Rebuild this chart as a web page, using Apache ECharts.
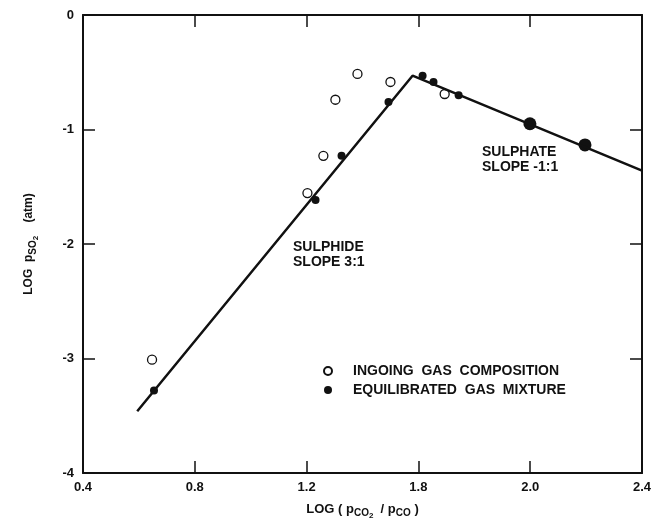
<!DOCTYPE html>
<html>
<head>
<meta charset="utf-8">
<script src="https://cdn.jsdelivr.net/npm/echarts@6/dist/echarts.min.js"></script>
<style>
  html, body { margin: 0; padding: 0; background: #fff; }
  #chart { width: 663px; height: 523px; }
</style>
</head>
<body>
<div id="chart"></div>
<script>
// x tick labels as printed on the figure (the 1.6 tick is printed "1.8")
var xTickLabels = ['0.4', '0.8', '1.2', '1.8', '2.0', '2.4'];
var yTickLabels = ['-4', '-3', '-2', '-1', '0'];

// open circles: ingoing gas composition
var ingoing = [
    [0.647, -3.01], [1.203, -1.555], [1.26, -1.23], [1.303, -0.74],
    [1.382, -0.515], [1.50, -0.585], [1.694, -0.69]
];
// filled circles: equilibrated gas mixture
var equilibrated = [
    [0.654, -3.28], [1.232, -1.616], [1.325, -1.23], [1.493, -0.76],
    [1.615, -0.53], [1.654, -0.585], [1.744, -0.70]
];
var equilibratedLarge = [[1.999, -0.95], [2.196, -1.135]];
// fitted lines: sulphide slope 3:1, sulphate slope -1:1
var fitLine = [[0.594, -3.46], [1.579, -0.53], [2.4, -1.36]];

var font = '"Liberation Sans", Arial, sans-serif';

function init() {
    var myChart = echarts.init(document.getElementById('chart'));

    var tick = { inside: true, length: 12, lineStyle: { color: '#111', width: 1.5 } };
    var line = { onZero: false, lineStyle: { color: '#111', width: 2 } };

    var option = {
        backgroundColor: '#fff',
        animation: false,
        grid: { left: 83, right: 21, top: 15, bottom: 50, outerBoundsMode: 'none', containLabel: false },
        legend: {
            data: ['INGOING  GAS  COMPOSITION', 'EQUILIBRATED  GAS  MIXTURE'],
            orient: 'vertical',
            left: 318, top: 359,
            itemGap: 5,
            itemWidth: 12, itemHeight: 8,
            textStyle: { color: '#111', fontSize: 14, fontWeight: 'bold', fontFamily: font, padding: [0, 0, 0, 14] }
        },
        xAxis: [
            {
                type: 'value', min: 0.4, max: 2.4, interval: 0.4,
                name: '{t|LOG ( p}{s|CO}{u|2}{t|  / p}{s|CO}{t| )}',
                nameLocation: 'middle', nameGap: 25,
                nameTextStyle: {
                    rich: {
                        t: { fontSize: 13, fontWeight: 'bold', color: '#111', fontFamily: font },
                        s: { fontSize: 10, fontWeight: 'bold', color: '#111', fontFamily: font, padding: [9, 0, 0, 0] },
                        u: { fontSize: 8, fontWeight: 'bold', color: '#111', fontFamily: font, padding: [14, 0, 0, 0] }
                    }
                },
                axisLine: line,
                axisTick: tick,
                splitLine: { show: false },
                axisLabel: {
                    color: '#111', fontSize: 13, fontWeight: 'bold', fontFamily: font, margin: 8,
                    formatter: function (v) { return xTickLabels[Math.round((v - 0.4) / 0.4)]; }
                }
            },
            {
                type: 'value', position: 'top', min: 0.4, max: 2.4, interval: 0.4,
                axisLine: line,
                axisTick: tick,
                axisLabel: { show: false },
                splitLine: { show: false }
            }
        ],
        yAxis: [
            {
                type: 'value', min: -4, max: 0, interval: 1,
                name: '{t|LOG  p}{s|SO}{u|2}{t|    (atm)}',
                nameLocation: 'middle', nameGap: 43, nameRotate: 90,
                nameTextStyle: {
                    rich: {
                        t: { fontSize: 12, fontWeight: 'bold', color: '#111', fontFamily: font },
                        s: { fontSize: 10, fontWeight: 'bold', color: '#111', fontFamily: font, padding: [9, 0, 0, 0] },
                        u: { fontSize: 8, fontWeight: 'bold', color: '#111', fontFamily: font, padding: [14, 0, 0, 0] }
                    }
                },
                axisLine: line,
                axisTick: tick,
                splitLine: { show: false },
                axisLabel: {
                    color: '#111', fontSize: 13, fontWeight: 'bold', fontFamily: font, margin: 9,
                    formatter: function (v) { return yTickLabels[Math.round(v + 4)]; }
                }
            },
            {
                type: 'value', position: 'right', min: -4, max: 0, interval: 1,
                axisLine: line,
                axisTick: tick,
                axisLabel: { show: false },
                splitLine: { show: false }
            }
        ],
        series: [
            {
                name: 'fit', type: 'line', data: fitLine,
                symbol: 'none', silent: true,
                lineStyle: { color: '#111', width: 2.5 }
            },
            {
                name: 'INGOING  GAS  COMPOSITION', type: 'scatter', data: ingoing,
                symbolSize: 9,
                itemStyle: { color: '#fff', borderColor: '#111', borderWidth: 1.3, opacity: 1 }
            },
            {
                name: 'EQUILIBRATED  GAS  MIXTURE', type: 'scatter', data: equilibrated,
                symbolSize: 8,
                itemStyle: { color: '#111', opacity: 1 }
            },
            {
                name: 'large', type: 'scatter', data: equilibratedLarge,
                symbolSize: 13,
                itemStyle: { color: '#111', opacity: 1 }
            }
        ],
        graphic: [
            {
                type: 'text', left: 293, top: 240,
                style: { text: 'SULPHIDE\nSLOPE 3:1', fill: '#111', font: 'bold 14px ' + font, lineHeight: 15 }
            },
            {
                type: 'text', left: 482, top: 145,
                style: { text: 'SULPHATE\nSLOPE -1:1', fill: '#111', font: 'bold 14px ' + font, lineHeight: 15 }
            }
        ]
    };

    myChart.setOption(option);
    window.addEventListener('resize', function () {
        myChart.resize();
    });
}
init();
</script>
</body>
</html>
